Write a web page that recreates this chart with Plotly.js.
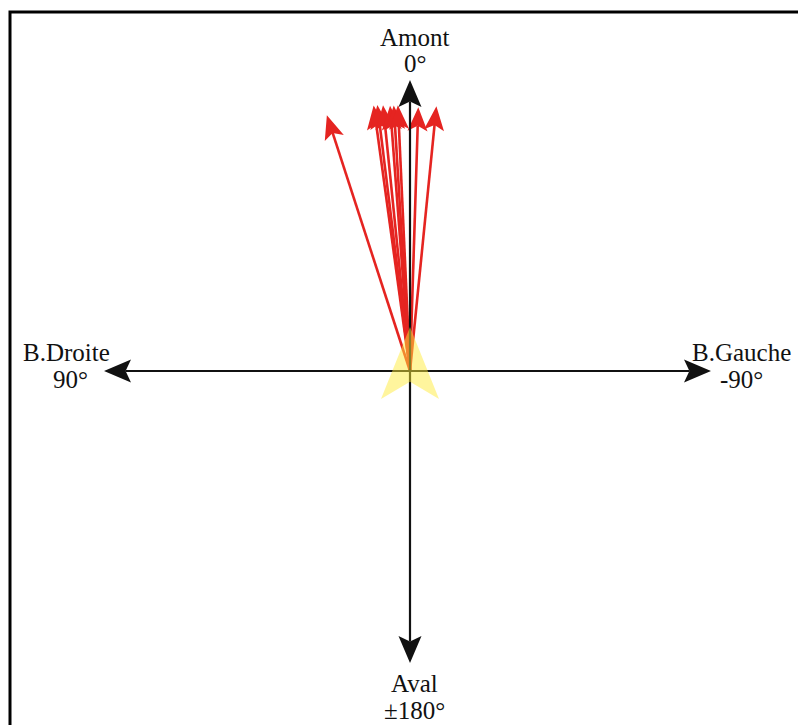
<!DOCTYPE html>
<html>
<head>
<meta charset="utf-8">
<script src="https://cdn.plot.ly/plotly-3.0.1.min.js"></script>
<style>html,body{margin:0;padding:0;background:#fff;}#chart{width:798px;height:725px;}</style>
</head>
<body>
<div id="chart"></div>
<script>
// Directions of the red vectors (degrees; 0 = Amont, +90 = B.Droite, -90 = B.Gauche)
const vectorAngles = [18.0, 7.8, 7.0, 5.8, 4.3, 3.5, 2.6, -1.8, -5.7];
// Vector lengths (plot units)
const vectorLengths = [2.69, 2.68, 2.68, 2.67, 2.66, 2.66, 2.66, 2.64, 2.66];
// Reference (yellow) direction and length
const refAngle = [0];
const refLength = [0.44];
// Compass axes: labels, angles and half-lengths
const axisNames = ["Amont", "B.Droite", "Aval", "B.Gauche"];
const axisDegrees = ["0°", "90°", "±180°", "-90°"];
const axisAngles = [0, 90, 180, -90];
const axisLengths = [2.91, 3.06, 2.92, 3.01];

function unit(angleDeg) {
  const a = angleDeg * Math.PI / 180;
  return [-Math.sin(a), Math.cos(a)];
}

// arrow geometry in axis units (1 unit = 100 px on both axes)
function arrowShapes(angleDeg, r, headLen, headHalfW, notchFrac, color, lineW, withLine) {
  const [ux, uy] = unit(angleDeg);
  const px = uy, py = -ux;
  const tx = r * ux, ty = r * uy;
  const bx = tx - headLen * ux, by = ty - headLen * uy;
  const nx = tx - notchFrac * headLen * ux, ny = ty - notchFrac * headLen * uy;
  const out = [];
  if (withLine) {
    out.push({type: 'line', xref: 'x', yref: 'y', x0: 0, y0: 0, x1: nx, y1: ny,
      line: {color: color, width: lineW}, layer: 'above'});
  }
  const path = 'M' + tx + ',' + ty +
    ' L' + (bx + headHalfW * px) + ',' + (by + headHalfW * py) +
    ' L' + nx + ',' + ny +
    ' L' + (bx - headHalfW * px) + ',' + (by - headHalfW * py) + ' Z';
  out.push({type: 'path', xref: 'x', yref: 'y', path: path, fillcolor: color,
    line: {width: 0}, layer: 'above'});
  return out;
}

let shapes = [];
// frame
shapes.push({
  type: 'rect', xref: 'paper', yref: 'paper',
  x0: 10 / 798, x1: 1.05, y0: -0.05, y1: 1 - 12 / 725,
  line: {color: '#000000', width: 3}, fillcolor: 'rgba(0,0,0,0)', layer: 'below'
});
// red vectors
vectorAngles.forEach((ang, i) => {
  shapes = shapes.concat(arrowShapes(ang, vectorLengths[i], 0.24, 0.10, 0.78, '#E52421', 2.6, true));
});
// black compass axes
axisAngles.forEach((ang, i) => {
  shapes = shapes.concat(arrowShapes(ang, axisLengths[i], 0.27, 0.115, 0.8, '#111111', 2.2, true));
});
// yellow reference arrowhead
refAngle.forEach((ang, i) => {
  shapes = shapes.concat(arrowShapes(ang, refLength[i], 0.72, 0.29, 0.76, 'rgba(255,236,60,0.5)', 0, false));
});

// text labels
const font = {family: '"Liberation Serif", "Times New Roman", serif', size: 25, color: '#111111'};
const labelPos = [
  {x: 0.05, y: 3.34, dy: -0.26},   // Amont
  {x: -3.44, y: 0.19, dy: -0.27},  // B.Droite
  {x: 0.04, y: -3.12, dy: -0.27},  // Aval
  {x: 3.31, y: 0.19, dy: -0.27}    // B.Gauche
];
const annotations = [];
axisNames.forEach((name, i) => {
  const p = labelPos[i];
  annotations.push({x: p.x, y: p.y, xref: 'x', yref: 'y', text: name, showarrow: false, font: font, xanchor: 'center', yanchor: 'middle'});
  annotations.push({x: p.x + (i === 1 ? 0.04 : 0), y: p.y + p.dy, xref: 'x', yref: 'y', text: axisDegrees[i], showarrow: false, font: font, xanchor: 'center', yanchor: 'middle'});
});

const layout = {
  width: 798, height: 725,
  margin: {l: 0, r: 0, t: 0, b: 0},
  paper_bgcolor: '#ffffff', plot_bgcolor: '#ffffff',
  showlegend: false,
  xaxis: {range: [-4.10, 3.88], visible: false, fixedrange: true},
  yaxis: {range: [-3.54, 3.71], visible: false, fixedrange: true},
  annotations: annotations,
  shapes: shapes
};

Plotly.newPlot('chart', [{x: [0], y: [0], mode: 'markers', marker: {opacity: 0}, hoverinfo: 'skip'}], layout, {displayModeBar: false, staticPlot: true});
</script>
</body>
</html>
